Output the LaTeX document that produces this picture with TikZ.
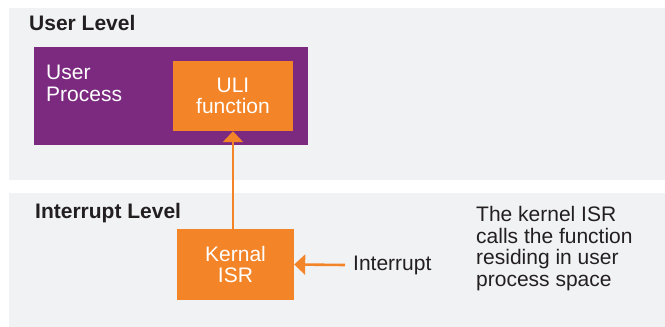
\documentclass[tikz,border=0pt]{standalone}
\usepackage{fontspec}
\setmainfont{Liberation Sans}
\usetikzlibrary{arrows.meta, positioning}
\definecolor{panelgrey}{HTML}{F1F2F4}
\definecolor{uliviolet}{HTML}{7B2A80}
\definecolor{isrorange}{HTML}{F38428}
\definecolor{inkgrey}{HTML}{231F20}
\tikzset{
  >={Triangle[width=20pt, length=11pt]},
  panel/.style={fill=panelgrey, draw=none, minimum width=656pt, inner sep=0pt},
  block/.style={fill=isrorange, draw=none, text=white, align=center, inner sep=0pt,
    font=\fontsize{21}{21.5}\selectfont},
  label/.style={text=inkgrey, inner sep=0pt, font=\fontsize{21}{21.5}\selectfont},
  heading/.style={text=inkgrey, inner sep=0pt, font=\fontsize{21}{21}\selectfont\bfseries},
  call/.style={->, isrorange, line width=2.6pt}
}
\begin{document}
\begin{tikzpicture}[x=1pt, y=-1pt]
  \useasboundingbox (0, 0) rectangle (665, 327);

  % the two levels
  \node[panel, minimum height=172pt] (userlvl) at (337, 94) {};
  \node[panel, minimum height=134pt] (intrlvl) at (337, 260) {};
  \node[heading, anchor=base west] (userhead) at (29, 30) {User Level};
  \node[heading, anchor=base west] (intrhead) at (35, 218) {Interrupt Level};

  % user process with the ULI function inside
  \node[fill=uliviolet, minimum width=274pt, minimum height=98pt, inner sep=0pt]
    (userproc) at (171, 96) {};
  \node[label, text=white, align=left, anchor=base west] (proctext) at (46, 101)
    {User\\Process};
  \node[block, minimum width=120pt, minimum height=70pt] (uli) at (233, 96)
    {ULI\\function};

  % kernel side
  \node[block, minimum width=117pt, minimum height=71pt] (kisr) at (235.5, 264.5)
    {Kernal\\ISR};
  \node[label, anchor=west, inner xsep=8pt] (intr) at (345, 265) {Interrupt};
  \node[label, align=left, anchor=base west] (note) at (476, 286)
    {The kernel ISR\\calls the function\\residing in user\\process space};

  \draw[call] (kisr.north -| uli.south) -- (uli.south);
  \draw[call] (intr.west) -- (kisr.east);

\end{tikzpicture}
\end{document}
